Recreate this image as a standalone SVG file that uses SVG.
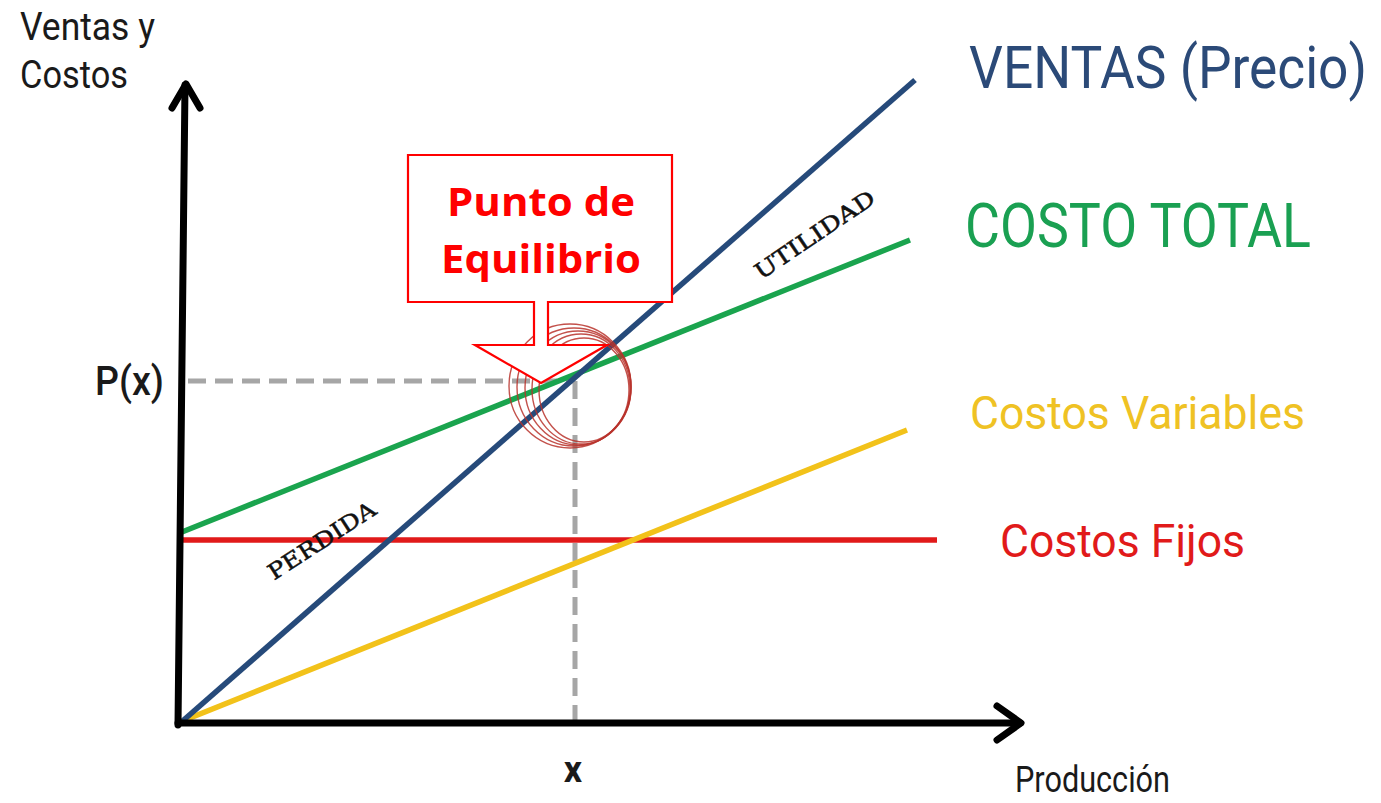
<svg xmlns="http://www.w3.org/2000/svg" width="1381" height="803" viewBox="0 0 1381 803">
<style>
.axis{stroke:#000;stroke-width:7;fill:none;stroke-linecap:round;stroke-linejoin:round}
.ln{stroke-width:5.5;fill:none}
.dash{stroke:#a6a6a6;stroke-width:5;stroke-dasharray:18 9;fill:none}
.ring{stroke:#b8322c;stroke-width:1.4;fill:none;opacity:0.85}
.lbl{font-family:Roboto,"Liberation Sans",sans-serif}
.ax{font-family:Roboto,"Liberation Sans",sans-serif;fill:#1a1a1a}
.serif{font-family:"DejaVu Serif","Liberation Serif",serif;fill:#111;font-size:22px;stroke:#111;stroke-width:0.5}
.call{font-family:"Open Sans","Liberation Sans",sans-serif;font-weight:bold;fill:#ff0000;font-size:40px;text-anchor:middle}
</style>
<rect width="1381" height="803" fill="#fff"/>
<g id="guides">
<line class="dash" x1="188" y1="381" x2="575" y2="381"/>
<line class="dash" x1="575" y1="381" x2="575" y2="720"/>
</g>
<g id="connectors">
<line class="ln" x1="182" y1="540" x2="937" y2="540" stroke="#e11a1a" stroke-width="6"/>
<line class="ln" x1="180" y1="722" x2="907" y2="430" stroke="#f2c21a"/>
<line class="ln" x1="182" y1="532" x2="910" y2="240" stroke="#1aa44e"/>
<line class="ln" x1="178" y1="725" x2="915" y2="80" stroke="#264a7a"/>
</g>
<g id="axes">
<line class="axis" x1="178" y1="725" x2="185" y2="85"/>
<polyline class="axis" points="172,108 186,84 200,108"/>
<line class="axis" x1="178" y1="723" x2="1020" y2="723"/>
<polyline class="axis" points="997,706 1021,723 997,740"/>
</g>
<g id="rings">
<ellipse class="ring" cx="570" cy="386" rx="61" ry="62"/>
<ellipse class="ring" cx="574" cy="387" rx="57" ry="59"/>
<ellipse class="ring" cx="578" cy="388" rx="53" ry="57"/>
<ellipse class="ring" cx="581" cy="389" rx="49" ry="55"/>
<ellipse class="ring" cx="584" cy="390" rx="45" ry="52"/>
</g>
<g id="callout">
<path d="M408,155 H672 V302 H548 V345 H607 L541,383 L475,345 H534 V302 H408 Z" fill="#fff" stroke="#ff0000" stroke-width="2.2" stroke-linejoin="miter"/>
<text class="call" x="541" y="216" textLength="188" lengthAdjust="spacingAndGlyphs">Punto de</text>
<text class="call" x="541" y="273" textLength="200" lengthAdjust="spacingAndGlyphs">Equilibrio</text>
</g>
<g id="region-labels">
<text class="serif" text-anchor="middle" transform="translate(326,547) rotate(-33)" textLength="124" lengthAdjust="spacingAndGlyphs">PERDIDA</text>
<text class="serif" text-anchor="middle" transform="translate(819,241) rotate(-34)" textLength="140" lengthAdjust="spacingAndGlyphs">UTILIDAD</text>
</g>
<g id="legend">
<text class="lbl" x="969" y="88" font-size="60" fill="#2b4a78" textLength="398" lengthAdjust="spacingAndGlyphs">VENTAS (Precio)</text>
<text class="lbl" x="965" y="247" font-size="62" fill="#1aa052" textLength="346" lengthAdjust="spacingAndGlyphs">COSTO TOTAL</text>
<text class="lbl" x="970" y="429" font-size="47" fill="#efc224" textLength="335" lengthAdjust="spacingAndGlyphs">Costos Variables</text>
<text class="lbl" x="1000" y="557" font-size="47" fill="#e11a1a" textLength="245" lengthAdjust="spacingAndGlyphs">Costos Fijos</text>
</g>
<g id="axis-labels">
<text class="ax" x="20" y="40" font-size="38" textLength="135" lengthAdjust="spacingAndGlyphs">Ventas y</text>
<text class="ax" x="20" y="88" font-size="38" textLength="108" lengthAdjust="spacingAndGlyphs">Costos</text>
<text class="ax" x="95" y="395" font-size="40" font-weight="500" textLength="69" lengthAdjust="spacingAndGlyphs">P(x)</text>
<text class="ax" x="573" y="782" font-size="36" font-weight="bold" text-anchor="middle">x</text>
<text class="ax" x="1015" y="792" font-size="36" textLength="155" lengthAdjust="spacingAndGlyphs">Producción</text>
</g>
</svg>
